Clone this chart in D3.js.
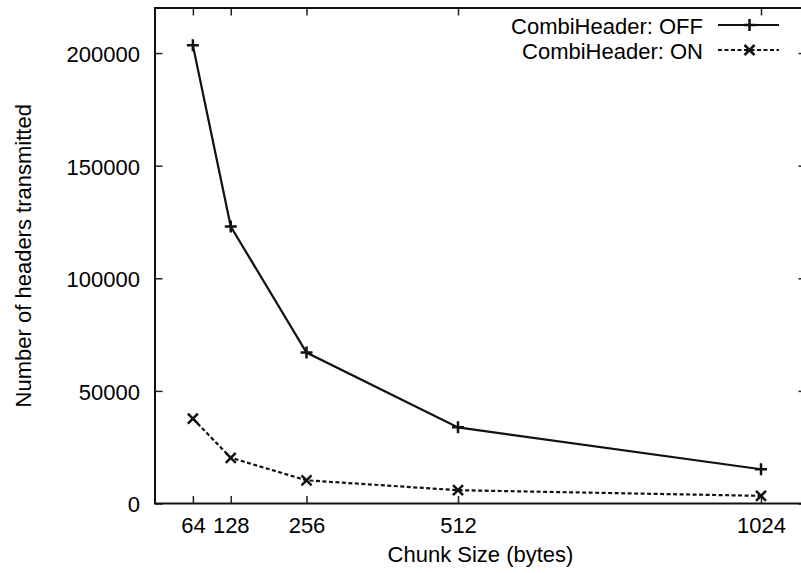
<!DOCTYPE html>
<html>
<head>
<meta charset="utf-8">
<script src="https://cdn.jsdelivr.net/npm/d3@7"></script>
<style>
  body { margin: 0; background: #fff; }
  text { font-family: "Liberation Sans", Arial, sans-serif; font-size: 22px; fill: #000; }
</style>
</head>
<body>
<div id="chart"></div>
<script>
/*Chart data*/
const chunkSizes = [64, 128, 256, 512, 1024];
const headersOff = [203500, 123000, 67000, 33800, 15200];
const headersOn = [37700, 20300, 10300, 5900, 3400];
const xTicks = [64, 128, 256, 512, 1024];
const yTicks = [0, 50000, 100000, 150000, 200000];
const seriesNames = ["CombiHeader: OFF", "CombiHeader: ON"];

document.addEventListener("DOMContentLoaded", function(){

       const chartWidth = 801;
       const chartHeight = 573;
       const left = 155, right = 806, top = 8, bottom = 503.5;
       const tickLen = 7.5;

       const svg = d3.select("#chart")
              .append("svg")
              .attr("width", chartWidth)
              .attr("height", chartHeight);

       const x = d3.scaleLinear().domain([0, 1100]).range([left, right]);
       const y = d3.scaleLinear().domain([0, 220000]).range([bottom, top]);

       /*Axes, ticks point inward like gnuplot*/
       const xAxis = svg.append("g")
              .attr("transform", "translate(0," + bottom + ")")
              .call(d3.axisBottom(x).tickValues(xTicks).tickSizeInner(-tickLen).tickSizeOuter(0).tickPadding(14).tickFormat(d3.format("d")));
       const yAxis = svg.append("g")
              .attr("transform", "translate(" + left + ",0)")
              .call(d3.axisLeft(y).tickValues(yTicks).tickSizeInner(-tickLen).tickSizeOuter(0).tickPadding(15).tickFormat(d3.format("d")));
       /*mirror ticks*/
       const xTop = svg.append("g")
              .attr("transform", "translate(0," + top + ")")
              .call(d3.axisTop(x).tickValues(xTicks).tickSizeInner(-tickLen).tickSizeOuter(0).tickFormat(""));
       const yRight = svg.append("g")
              .attr("transform", "translate(" + right + ",0)")
              .call(d3.axisRight(y).tickValues(yTicks).tickSizeInner(-tickLen).tickSizeOuter(0).tickFormat(""));

       [xAxis, yAxis, xTop, yRight].forEach(function(g){
              g.select(".domain").remove();
              g.selectAll(".tick line").attr("stroke", "#222").attr("stroke-width", 1.5);
              g.selectAll("text").attr("font-size", null).attr("font-family", null).style("fill", "#000");
       });
       yAxis.selectAll("text").attr("dy", "0.38em");

       /*Border*/
       svg.append("rect")
              .attr("x", left).attr("y", top)
              .attr("width", right - left).attr("height", bottom - top)
              .attr("fill", "none").attr("stroke", "#111").attr("stroke-width", 2);

       /*Axis titles*/
       svg.append("text")
              .text("Chunk Size (bytes)")
              .attr("x", (left + right) / 2)
              .attr("y", 562)
              .attr("text-anchor", "middle");
       svg.append("text")
              .text("Number of headers transmitted")
              .attr("transform", "translate(31," + ((top + bottom) / 2) + ") rotate(-90)")
              .attr("text-anchor", "middle");

       /*Markers*/
       function plus(g, cx, cy){
              g.append("path")
                     .attr("d", "M" + (cx - 6) + "," + cy + "H" + (cx + 6) + "M" + cx + "," + (cy - 6) + "V" + (cy + 6))
                     .attr("stroke", "#111").attr("stroke-width", 2.5).attr("fill", "none");
       }
       function cross(g, cx, cy){
              g.append("path")
                     .attr("d", "M" + (cx - 5) + "," + (cy - 5) + "L" + (cx + 5) + "," + (cy + 5) + "M" + (cx - 5) + "," + (cy + 5) + "L" + (cx + 5) + "," + (cy - 5))
                     .attr("stroke", "#111").attr("stroke-width", 2.5).attr("fill", "none");
       }

       const series = [
              {name: seriesNames[0], values: headersOff, dash: null, marker: plus},
              {name: seriesNames[1], values: headersOn, dash: "4,2.5", marker: cross}
       ];

       const line = d3.line()
              .x(function(d){ return x(d[0]); })
              .y(function(d){ return y(d[1]); });

       series.forEach(function(s, i){
              const pts = chunkSizes.map(function(c, j){ return [c, s.values[j]]; });
              svg.append("path")
                     .datum(pts)
                     .attr("d", line)
                     .attr("fill", "none")
                     .attr("stroke", "#111")
                     .attr("stroke-width", 2.2)
                     .attr("stroke-dasharray", s.dash);
              const mg = svg.append("g");
              pts.forEach(function(p){ s.marker(mg, x(p[0]), y(p[1])); });

              /*Legend entry*/
              const ly = 25 + i * 25;
              svg.append("text")
                     .text(s.name)
                     .attr("x", 703)
                     .attr("y", ly + 9)
                     .attr("text-anchor", "end");
              svg.append("line")
                     .attr("x1", 718).attr("x2", 779)
                     .attr("y1", ly).attr("y2", ly)
                     .attr("stroke", "#111").attr("stroke-width", 2.2)
                     .attr("stroke-dasharray", s.dash);
              s.marker(svg, 749.5, ly);
       });
});
</script>
</body>
</html>
